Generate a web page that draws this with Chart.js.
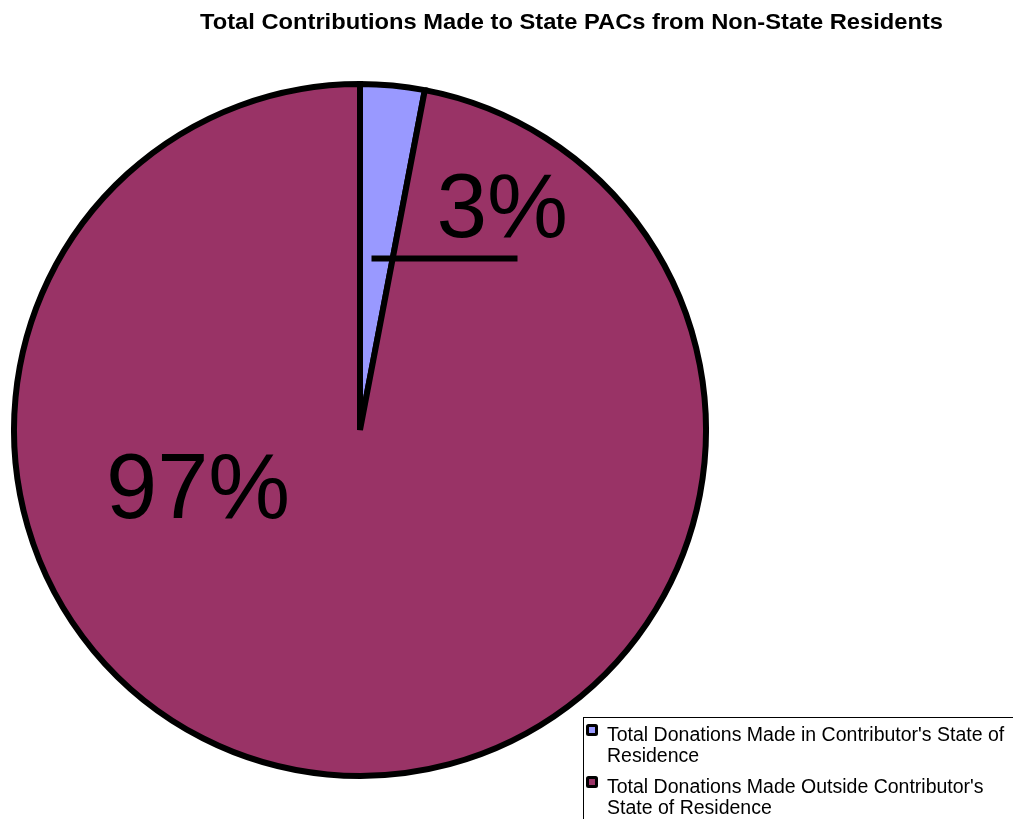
<!DOCTYPE html>
<html>
<head>
<meta charset="utf-8">
<title>State PAC Contributions</title>
<script src="https://cdn.jsdelivr.net/npm/chart.js@4"></script>
<style>
  html, body { margin: 0; padding: 0; background: #ffffff; }
  #wrap { width: 1013px; height: 819px; position: relative; }
</style>
</head>
<body>
<div id="wrap"><canvas id="pacChart" width="1013" height="819"></canvas></div>
<script>
// ---------------- Data ----------------

const chartTitle = "Total Contributions Made to State PACs from Non-State Residents";

const categories = [
    ["Total Donations Made in Contributor's State of", "Residence"],
    ["Total Donations Made Outside Contributor's", "State of Residence"]
];

const values = [3, 97];

const sliceColors = ["#9999ff", "#993366"];

// ---------------- Helpers ----------------

const FONT = "Arial, 'Liberation Sans', sans-serif";

function pct(i) {
    const total = values.reduce((a, b) => a + b, 0);
    return Math.round(values[i] / total * 100) + "%";
}

// ---------------- Title ----------------

const titlePlugin = {
    id: "sheetTitle",
    afterDraw(chart) {
        const ctx = chart.ctx;
        ctx.save();
        ctx.font = "bold 22px " + FONT;
        ctx.fillStyle = "#000";
        ctx.textBaseline = "alphabetic";
        // squeeze/stretch to the sheet's title width
        const w = ctx.measureText(chartTitle).width;
        const target = 743;
        ctx.translate(200, 29);
        ctx.scale(target / w, 1);
        ctx.fillText(chartTitle, 0, 0);
        ctx.restore();
    }
};

// ---------------- Slice labels ----------------

const sliceLabels = {
    id: "sliceLabels",
    afterDatasetsDraw(chart) {
        const ctx = chart.ctx;
        const meta = chart.getDatasetMeta(0);
        const cx = meta.data[0].x;
        const cy = meta.data[0].y;
        const r = meta.data[0].outerRadius;
        const k = r / 346;

        ctx.save();
        ctx.fillStyle = "#000";
        ctx.textBaseline = "alphabetic";
        ctx.textAlign = "left";

        // small slice: label outside the wedge with a leader line
        ctx.strokeStyle = "#000";
        ctx.lineWidth = 6;
        ctx.beginPath();
        ctx.moveTo(cx + 11.5 * k, cy - 171.5 * k);
        ctx.lineTo(cx + 157.5 * k, cy - 171.5 * k);
        ctx.stroke();

        ctx.font = "91px " + FONT;
        ctx.fillText(pct(0), cx + 76.5 * k, cy - 193 * k);

        // large slice
        ctx.font = "92px " + FONT;
        ctx.fillText(pct(1), cx - 254 * k, cy + 88 * k);

        ctx.restore();
    }
};

// ---------------- Legend ----------------

const boxLegend = {
    id: "boxLegend",
    afterDraw(chart) {
        const ctx = chart.ctx;
        const bx = 583.5, by = 717.5;
        ctx.save();
        ctx.strokeStyle = "#000";
        ctx.lineWidth = 1;
        ctx.strokeRect(bx, by, 460, 140);

        ctx.font = "19.5px " + FONT;
        ctx.fillStyle = "#000";
        ctx.textBaseline = "alphabetic";

        const rows = [724, 776];
        categories.forEach((lines, i) => {
            const my = rows[i];
            // black rounded marker with colour chip
            ctx.fillStyle = "#000";
            ctx.beginPath();
            ctx.roundRect(586, my, 12, 12, 2.5);
            ctx.fill();
            ctx.fillStyle = sliceColors[i];
            ctx.fillRect(589, my + 3, 6, 6);

            ctx.fillStyle = "#000";
            ctx.fillText(lines[0], 607, my + 17);
            ctx.fillText(lines[1], 607, my + 38);
        });
        ctx.restore();
    }
};

// ---------------- Chart ----------------

const pacChart = document.getElementById("pacChart");

new Chart(pacChart, {

    type: "pie",

    data: {
        labels: categories.map(l => l.join(" ")),
        datasets: [{
            data: values,
            backgroundColor: sliceColors,
            borderColor: "#000",
            borderWidth: 6,
            borderJoinStyle: "miter"
        }]
    },

    options: {
        responsive: false,
        animation: false,
        layout: {
            padding: { left: 11, top: 81, right: 304, bottom: 40 }
        },
        plugins: {
            legend: { display: false },
            title: { display: false },
            tooltip: { enabled: false }
        }
    },

    plugins: [titlePlugin, sliceLabels, boxLegend]

});
</script>
</body>
</html>
